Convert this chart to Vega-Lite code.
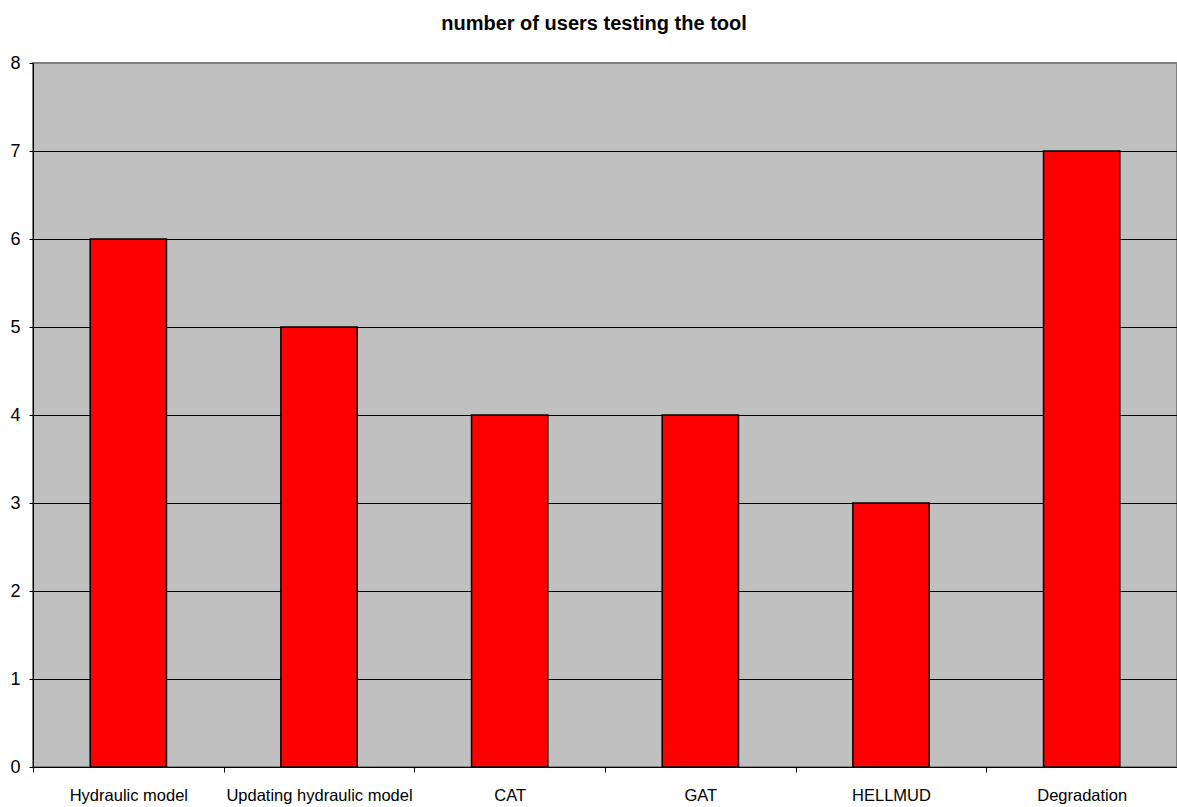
{
  "$schema": "https://vega.github.io/schema/vega-lite/v6.json",
  "autosize": "none",
  "width": 1144,
  "height": 704,
  "padding": {"left": 33, "top": 63, "right": 0, "bottom": 40},
  "background": "white",
  "title": {
    "text": "number of users testing the tool",
    "font": "Liberation Sans",
    "fontSize": 20,
    "fontWeight": "bold",
    "color": "black",
    "anchor": "middle",
    "offset": 20,
    "dx": -11
  },
  "config": {
    "view": {"fill": "#c0c0c0", "stroke": "#808080", "strokeWidth": 2},
    "axis": {
      "labelFont": "Liberation Sans",
      "labelFontSize": 16.5,
      "labelColor": "black",
      "labelLimit": 0,
      "domainColor": "black",
      "tickColor": "black",
      "titleFontSize": 0
    }
  },
  "data": {
    "values": [
      {"tool": "Hydraulic model", "users": 6},
      {"tool": "Updating hydraulic model", "users": 5},
      {"tool": "CAT", "users": 4},
      {"tool": "GAT", "users": 4},
      {"tool": "HELLMUD", "users": 3},
      {"tool": "Degradation", "users": 7}
    ]
  },
  "mark": {"type": "bar", "color": "#ff0000", "stroke": "black", "strokeWidth": 1.5},
  "encoding": {
    "x": {
      "field": "tool",
      "type": "nominal",
      "sort": null,
      "title": null,
      "scale": {"paddingInner": 0.6, "paddingOuter": 0.3},
      "axis": {
        "labelAngle": 0,
        "tickOffset": -95.33,
        "labelOffset": 95.33,
        "tickSize": 5,
        "labelPadding": 15,
        "grid": false,
        "domainWidth": 1
      }
    },
    "y": {
      "field": "users",
      "type": "quantitative",
      "title": null,
      "scale": {"domain": [0, 8], "nice": false},
      "axis": {
        "values": [0, 1, 2, 3, 4, 5, 6, 7, 8],
        "grid": true,
        "gridColor": {"condition": {"test": "datum.value == 8", "value": "#808080"}, "value": "black"},
        "gridOpacity": 1,
        "tickSize": 4,
        "labelFontSize": 18,
        "labelPadding": 9,
        "domainWidth": 1,
        "format": "d"
      }
    }
  }
}
